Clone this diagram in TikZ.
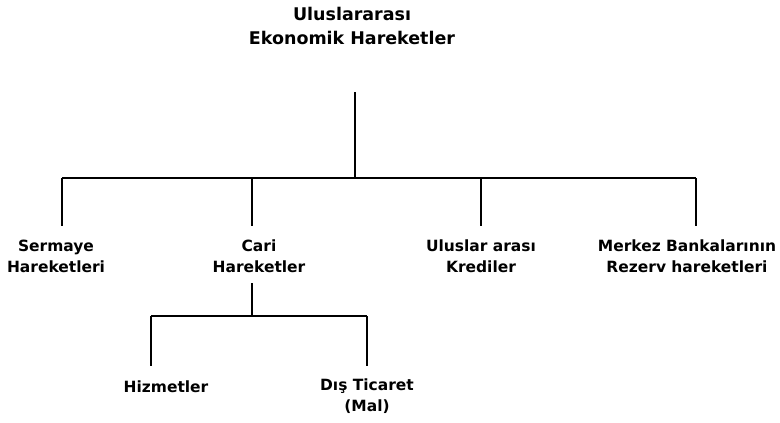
\documentclass[tikz,border=0pt]{standalone}
\usepackage{fontspec}
\newfontfamily\labfont{DejaVu Sans}[UprightFont=* Bold]
\begin{document}
\begin{tikzpicture}[x=0.75pt,y=-0.75pt,line width=1.4pt,
  lab/.style={font=\labfont\fontsize{11.6}{15.75}\selectfont,align=center,inner sep=0pt},
  ttl/.style={font=\labfont\fontsize{13.1}{18}\selectfont,align=center,inner sep=0pt}]
\useasboundingbox (0,0) rectangle (780,422);
\node[ttl] (title) at (352,26) {Uluslararası\\Ekonomik Hareketler};
\coordinate (top) at (355,92);
\coordinate (hub) at (355,178);
\node[lab] (serm) at (56,256) {Sermaye\\Hareketleri};
\node[lab] (cari) at (259,256) {Cari\\Hareketler};
\node[lab] (kred) at (481,256) {Uluslar arası\\Krediler};
\node[lab] (merk) at (687,256) {Merkez Bankalarının\\Rezerv hareketleri};
\coordinate (d1) at (62,226);
\coordinate (d2) at (252,226);
\coordinate (d3) at (481,226);
\coordinate (d4) at (696,226);
\draw (top) -- (hub);
\draw (d1 |- hub) -- (d4 |- hub);
\foreach \d in {d1,d2,d3,d4} \draw (\d |- hub) -- (\d);
\coordinate (cbot) at (252,283);
\coordinate (hub2) at (252,316);
\node[lab] (hiz) at (166,387) {Hizmetler};
\node[lab] (dis) at (367,396) {Dış Ticaret\\(Mal)};
\coordinate (e1) at (151,366);
\coordinate (e2) at (367,366);
\draw (cbot) -- (hub2);
\draw (e1 |- hub2) -- (e2 |- hub2);
\foreach \e in {e1,e2} \draw (\e |- hub2) -- (\e);
\end{tikzpicture}
\end{document}
